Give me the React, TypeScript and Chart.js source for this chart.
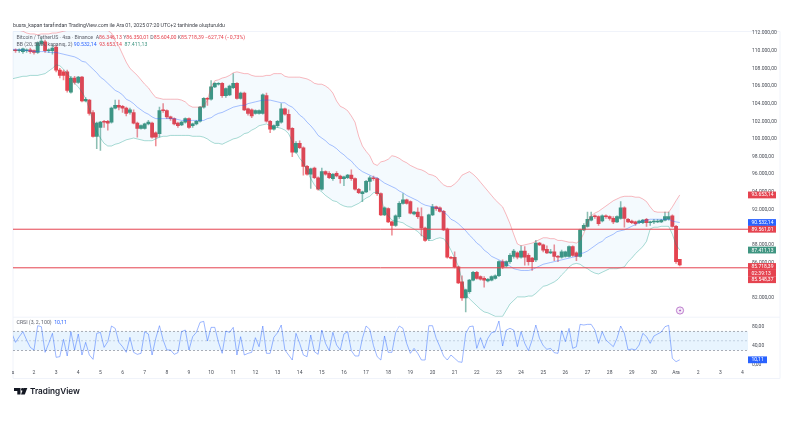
import { useEffect, useRef } from 'react'
import { Chart, registerables } from 'chart.js'

Chart.register(...registerables)

const FONT = 'Roboto, sans-serif'
const RED = '#e5434f'
const GREEN = '#3f9581'
const BLUE = '#2962ff'

// 4h candles, prices in thousands of USDT
const opens = [
  110.0,110.1,110.0,109.9,110.0,110.1,110.0,109.8,110.8,111.0,
  110.0,110.0,110.4,107.8,107.6,107.6,105.3,106.9,106.4,107.0,
  104.3,104.4,103.0,100.3,101.3,102.0,102.0,101.9,103.5,103.8,
  103.7,103.5,103.0,103.0,101.8,101.2,101.2,101.7,101.8,100.7,
  100.6,103.3,103.2,102.5,102.3,101.8,101.6,101.9,102.3,101.5,
  101.7,102.0,103.6,104.6,104.5,105.9,106.2,106.3,104.9,105.0,
  105.8,106.3,104.6,105.2,103.4,103.3,102.9,102.9,102.9,104.9,
  102.0,101.1,101.5,101.9,103.4,102.8,101.2,98.5,99.5,99.0,
  96.9,96.0,96.7,95.6,94.3,96.3,96.1,95.5,96.1,95.8,
  95.5,95.6,95.9,95.5,94.3,93.8,94.0,95.2,95.6,95.5,
  93.8,91.4,92.1,90.6,90.2,91.2,92.7,93.1,92.9,91.5,
  91.7,91.2,89.9,88.7,91.4,92.3,92.2,91.8,89.8,86.6,
  86.6,85.5,83.8,82.0,82.7,84.0,84.9,84.4,84.2,83.9,
  84.0,84.2,84.5,86.1,85.6,86.1,86.7,87.1,86.6,87.3,
  86.8,86.5,86.3,88.2,88.0,87.5,87.1,87.2,86.7,86.6,
  86.7,86.7,87.8,87.1,86.7,89.7,90.1,90.8,91.3,91.2,
  90.7,91.3,91.2,91.0,90.6,91.0,92.2,90.9,90.7,90.6,
  90.5,90.5,90.9,90.5,90.6,90.6,90.6,90.8,90.9,
  91.3,90.1,86.346,
]
const closes = [
  110.1,110.0,110.1,110.2,110.1,109.9,109.8,110.9,111.1,110.0,
  110.1,110.3,107.8,107.2,107.2,105.5,106.9,106.4,107.0,104.3,
  104.5,102.9,100.3,101.8,101.9,101.9,101.8,103.5,103.8,103.6,
  103.5,102.9,103.3,101.8,101.2,101.5,101.7,101.9,100.2,100.2,
  103.2,103.2,102.5,102.3,101.7,101.5,101.9,102.3,101.3,101.7,
  102.0,103.6,104.6,104.5,105.9,106.3,106.3,104.9,105.7,106.0,
  106.3,104.6,105.2,103.3,102.9,102.6,103.2,103.2,105.0,102.0,
  101.1,101.5,102.0,103.4,102.8,101.1,98.5,99.5,99.0,96.9,
  96.0,96.6,95.6,94.3,96.3,96.0,95.6,96.0,95.8,95.5,
  95.7,95.9,95.5,94.3,93.9,94.0,95.2,95.6,95.5,93.8,
  91.4,92.2,90.6,90.2,91.3,92.7,93.1,92.7,91.6,91.7,
  91.2,89.9,88.5,91.4,92.3,92.1,91.8,89.7,86.6,86.5,
  85.5,83.7,82.0,82.9,84.0,84.9,84.2,84.1,84.0,84.1,
  84.4,84.5,86.1,85.5,86.1,86.8,87.3,86.6,87.3,86.6,
  86.1,86.1,88.2,88.0,87.4,87.1,87.2,86.7,86.6,87.2,
  87.2,87.8,86.8,86.7,89.7,90.2,90.9,91.2,91.2,90.4,
  91.3,91.2,91.0,90.6,91.2,92.2,91.0,90.6,90.5,90.4,
  90.7,90.8,90.5,90.6,90.7,90.7,90.8,91.2,91.2,
  90.1,86.1,85.718,
]
const highs = [
  110.2,110.2,110.2,110.3,110.2,110.3,110.1,111.0,111.4,111.2,
  110.2,110.6,110.6,108.0,107.8,107.8,107.1,107.1,107.1,107.1,
  104.7,104.5,103.2,101.9,102.0,102.1,102.1,103.6,104.4,104.4,
  103.8,103.6,103.5,103.3,101.9,101.6,101.8,102.1,101.9,100.8,
  103.6,104.0,103.3,102.6,102.4,101.9,102.0,102.4,102.4,101.8,
  102.1,103.7,104.7,104.7,106.6,106.4,106.4,106.4,105.8,106.1,
  107.4,106.4,105.3,105.3,103.5,103.4,103.3,103.3,105.1,105.2,
  102.1,101.6,102.1,104.0,103.5,103.3,101.3,99.7,99.8,99.1,
  97.0,96.7,96.8,95.7,96.7,96.4,96.3,96.1,96.3,95.9,
  95.8,96.0,96.5,95.6,94.4,94.1,95.3,95.8,95.8,95.6,
  93.9,92.3,92.2,90.7,91.4,92.9,93.8,93.2,93.0,91.8,
  92.2,92.2,90.0,91.5,92.6,92.4,92.3,91.9,89.9,86.7,
  87.2,85.6,84.5,83.0,84.1,85.0,85.0,84.5,84.4,84.2,
  84.5,84.6,86.2,86.3,86.2,87.0,87.5,87.2,87.9,87.8,
  87.0,86.6,88.5,88.3,88.1,87.9,87.5,88.0,86.8,87.4,
  87.3,87.9,87.9,87.2,89.8,90.4,91.7,91.7,91.4,91.3,
  91.4,91.4,91.3,91.2,91.3,92.9,92.3,91.0,90.8,90.7,
  90.8,90.9,91.0,90.7,90.9,90.9,90.9,91.7,91.7,
  91.4,90.2,86.350,
]
const lows = [
  109.8,109.8,109.8,109.7,109.8,109.7,109.6,109.7,110.6,109.8,
  109.8,109.6,107.6,106.9,106.7,105.3,105.2,106.2,106.3,104.2,
  104.2,102.7,100.2,98.9,98.7,101.3,101.0,101.8,103.4,103.3,
  103.0,102.6,102.8,101.7,100.2,101.1,101.1,101.6,100.1,99.2,
  100.2,103.0,102.3,102.1,101.6,101.3,101.5,101.8,101.2,101.3,
  101.6,101.9,103.5,103.8,104.4,105.8,106.1,104.7,104.7,104.9,
  105.7,104.5,104.5,103.2,102.7,102.4,102.8,102.8,102.8,101.9,
  100.7,101.0,101.3,101.8,102.7,101.0,98.0,98.4,98.9,95.9,
  95.9,94.4,95.5,94.2,94.2,95.9,95.5,95.3,95.7,95.0,
  94.7,95.5,95.3,94.2,93.8,92.9,93.9,94.2,95.3,93.6,
  91.3,91.3,90.5,89.1,90.1,91.0,92.6,92.6,91.5,91.4,
  91.0,89.0,88.4,88.5,91.3,91.9,91.7,89.6,86.5,86.4,
  85.4,83.6,81.7,80.4,82.5,83.9,84.1,84.0,83.2,83.8,
  83.9,84.1,84.4,85.3,85.5,85.9,86.5,86.4,86.5,85.7,
  85.7,85.1,86.1,87.9,87.2,87.0,87.0,86.2,86.1,86.5,
  86.6,86.6,86.7,86.2,86.6,89.6,90.0,90.7,91.0,90.2,
  90.6,91.0,90.8,90.4,90.5,90.9,90.0,90.5,90.4,90.2,
  90.4,90.4,90.1,90.2,90.4,90.5,90.5,90.7,90.8,
  90.0,85.9,85.604,
]
const bbUpper = [
  112.5,112.3,112.3,112.2,112.0,111.9,111.9,111.8,111.9,111.9,
  111.9,112.0,112.0,112.1,112.2,112.3,112.5,112.5,112.5,112.5,
  112.5,112.5,112.5,112.5,112.5,112.5,112.3,112.0,111.1,110.5,
  109.6,108.7,108.0,107.6,107.2,106.7,106.2,105.8,105.2,104.7,
  104.6,104.5,104.5,104.5,104.5,104.5,104.4,104.2,103.8,103.6,
  103.6,103.6,103.7,104.4,105.9,106.6,106.7,106.9,107.0,107.2,
  107.5,107.6,107.5,107.4,107.4,107.2,107.1,107.1,107.1,107.2,
  107.2,107.4,107.4,107.4,107.1,107.0,107.0,107.0,107.0,106.9,
  106.8,106.6,106.3,106.2,106.2,106.0,105.7,105.2,104.3,103.7,
  103.5,103.2,102.6,101.9,100.3,99.2,98.6,98.1,97.2,97.0,
  97.4,97.5,97.7,98.1,98.0,97.8,97.5,97.3,97.0,96.8,
  96.6,96.5,96.3,96.0,95.9,95.7,95.2,94.8,94.6,94.6,
  94.9,95.3,95.9,96.1,96.3,96.0,95.6,95.1,94.6,94.1,
  93.6,93.1,92.7,92.3,91.4,90.4,89.2,88.1,87.9,88.0,
  88.1,88.2,88.4,88.6,88.8,88.8,88.7,88.7,88.5,88.5,
  88.4,88.3,88.3,88.2,88.5,89.3,90.6,91.3,91.6,91.8,
  92.1,92.4,92.7,93.0,93.2,93.4,93.5,93.5,93.5,93.4,
  93.4,93.2,92.9,92.3,91.8,91.7,91.7,91.7,91.7,
  92.3,93.0,93.653,
]
const bbMiddle = [
  110.2,110.1,110.1,110.1,110.0,110.0,109.9,109.9,109.9,109.9,
  109.8,109.8,109.8,109.7,109.6,109.5,109.4,109.3,109.1,108.8,
  108.7,108.3,107.9,107.5,107.0,106.7,106.3,105.9,105.5,105.3,
  105.0,104.5,104.3,104.0,103.6,103.3,103.0,102.8,102.5,102.3,
  102.3,102.3,102.3,102.3,102.3,102.2,102.1,102.1,102.1,102.1,
  102.1,102.1,102.1,102.3,102.4,102.7,102.9,103.0,103.2,103.4,
  103.6,103.7,103.8,103.8,104.0,104.1,104.2,104.3,104.4,104.4,
  104.4,104.3,104.2,104.1,104.1,103.8,103.6,103.2,102.7,102.4,
  101.9,101.5,101.0,100.4,100.1,99.8,99.4,99.2,98.9,98.5,
  98.2,97.8,97.5,97.0,96.6,96.3,96.1,95.9,95.7,95.6,
  95.3,95.0,94.8,94.6,94.4,94.1,93.9,93.6,93.4,93.2,
  93.0,92.7,92.5,92.4,92.3,92.2,92.1,91.7,91.4,90.9,
  90.7,90.4,90.0,89.6,89.1,88.7,88.2,87.9,87.4,87.1,
  86.7,86.5,86.3,86.1,85.8,85.6,85.3,85.2,85.1,85.1,
  85.1,85.2,85.4,85.6,85.8,85.9,86.0,86.1,86.2,86.3,
  86.4,86.5,86.6,86.7,87.0,87.1,87.3,87.6,87.9,88.2,
  88.4,88.8,89.0,89.2,89.5,89.6,89.7,89.9,90.1,90.3,
  90.5,90.7,90.8,90.9,90.9,90.9,90.9,90.9,90.9,
  90.7,90.6,90.532,
]
const bbLower = [
  106.8,106.9,107.0,107.1,107.1,107.2,107.2,107.2,107.3,107.4,
  107.7,108.0,108.4,108.3,107.9,107.4,106.9,106.3,105.9,105.3,
  104.6,103.4,101.9,100.8,100.1,99.5,99.2,99.2,99.4,99.5,
  99.7,99.9,100.0,100.1,100.0,99.9,99.8,99.8,99.8,100.0,
  100.2,100.3,100.3,100.4,100.4,100.4,100.4,100.4,100.4,100.3,
  100.3,100.3,100.2,100.0,99.7,99.5,99.5,99.4,99.6,99.8,
  100.0,100.1,100.3,100.6,100.7,101.0,101.2,101.5,101.6,101.7,
  101.5,101.3,101.3,101.2,101.0,100.6,99.7,98.5,97.8,97.3,
  96.4,95.5,94.8,94.3,94.0,93.6,93.3,93.0,92.9,92.6,
  92.4,92.3,92.3,92.5,92.7,93.0,93.3,93.5,93.9,94.0,
  93.5,91.8,91.3,90.8,90.7,90.6,90.5,90.2,90.0,89.8,
  89.5,89.1,88.8,88.5,88.5,88.7,88.8,88.7,88.2,87.4,
  86.5,85.6,84.0,82.4,81.9,81.5,81.1,80.7,80.4,80.3,
  80.1,79.9,79.9,79.9,80.6,81.3,81.7,82.1,82.1,82.1,
  82.2,82.2,82.5,82.9,83.3,83.4,83.6,83.8,84.1,84.6,
  85.0,85.5,85.8,85.9,85.8,85.5,85.3,85.0,84.8,84.7,
  84.9,85.1,85.3,85.3,85.3,85.4,85.5,86.1,86.5,87.0,
  87.4,87.8,88.4,89.8,90.0,90.0,90.1,90.1,90.1,
  89.2,88.0,87.411,
]
const crsi = [
  65.7,46.8,58.7,69.2,51.7,36.3,30.7,81.8,79.7,25.8,
  44.7,65.7,15.3,16.7,53.1,18.1,69.2,30.7,64.3,20.2,
  46.8,20.2,11.1,65.7,67.8,36.3,48.2,81.1,76.2,46.8,
  37.7,25.8,57.3,25.8,21.6,23.7,69.2,64.3,20.2,55.2,
  81.8,51.7,30.7,30.7,21.6,25.1,69.2,72.7,30.7,58.7,
  67.8,88.8,90.9,49.6,78.3,78.3,46.8,23.7,70.6,67.8,
  78.3,20.2,58.7,20.2,23.7,25.8,56.6,37.7,81.1,23.7,
  23.7,57.3,67.1,83.2,30.7,20.2,9.7,65.7,44.7,20.2,
  16.7,62.2,27.2,21.6,72.7,44.7,29.3,67.8,41.2,30.7,
  64.3,69.2,29.3,18.1,18.1,55.2,81.1,74.1,39.8,16.7,
  9.7,60.1,25.8,25.8,67.1,81.1,76.2,44.7,23.7,34.2,
  23.7,9.7,9.7,81.8,81.8,55.2,37.7,18.1,9.7,20.2,
  13.2,6.2,4.8,65.7,79.7,81.1,34.2,56.6,34.2,55.2,
  67.1,69.2,91.6,39.1,72.7,76.2,72.7,37.7,69.2,44.7,
  29.3,51.7,83.2,55.2,39.8,32.1,34.2,25.1,23.7,71.3,
  48.2,76.2,34.2,37.7,84.6,83.2,84.6,84.6,72.7,44.7,
  69.2,51.7,44.7,37.7,55.2,81.1,65.7,30.7,32.8,30.7,
  41.2,65.7,58.7,44.7,60.1,64.3,68.5,79.7,82.5,
  13.2,6.2,10.11,
]

const priceTicks = [82, 84, 86, 88, 90, 92, 94, 96, 98, 100, 102, 104, 106, 108, 110, 112]
const crsiTicks = [0, 40, 80]
const dayLabels = [
  's', '2', '3', '4', '5', '6', '7', '8', '9', '10', '11', '12', '13', '14', '15', '16', '17',
  '18', '19', '20', '21', '22', '23', '24', '25', '26', '27', '28', '29', '30', 'Ara', '2', '3', '4',
]
const resistance = 89.77
const support = 85.4
const crsiBands = [70, 50, 30]

const tagTexts = ['93.653,14', '90.532,14', '89.561,01', '87.411,13', '85.718,39', '02:39:13', '85.548,37']
const tagPrices = [93.653, 90.532, 89.77, 87.411, 85.55, 84.8, 84.05]
const tagColors = [RED, BLUE, RED, GREEN, RED, RED, RED]

const X_MIN = 0.31
const X_MAX = 199.5
const candlesPerDay = 6

const series = (values: number[]) => values.map((y, x) => ({ x, y }))
const flat = (y: number) => [{ x: X_MIN, y }, { x: X_MAX, y }]
const priceText = (v: number) =>
  (v * 1000).toLocaleString('de-DE', { minimumFractionDigits: 2, maximumFractionDigits: 2 })

type Run = [string, string]
const GRAY = '#5d606b'

function drawRuns(ctx: CanvasRenderingContext2D, x: number, y: number, runs: Run[], gap = 0) {
  let cx = x
  runs.forEach(([text, color]) => {
    ctx.fillStyle = color
    ctx.fillText(text, cx, y)
    cx += ctx.measureText(text).width + gap
  })
}

const decorations = {
  id: 'decorations',
  beforeDraw(chart: Chart) {
    const { ctx } = chart
    const y = chart.scales.y
    ctx.save()
    ctx.strokeStyle = '#f0f3fa'
    ctx.lineWidth = 1
    ctx.beginPath()
    ctx.moveTo(13, 378.5); ctx.lineTo(13, 31.5); ctx.lineTo(780, 31.5); ctx.lineTo(780, 378.5); ctx.lineTo(13, 378.5)
    ctx.moveTo(13, y.bottom + 0.5); ctx.lineTo(780, y.bottom + 0.5)
    ctx.stroke()
    ctx.restore()
  },
  afterDraw(chart: Chart) {
    const { ctx } = chart
    const y = chart.scales.y
    const yc = chart.scales.yCrsi
    ctx.save()
    ctx.textBaseline = 'middle'
    ctx.font = `5.2px ${FONT}`
    ctx.fillStyle = '#3c3f47'
    ctx.fillText('busra_kapan tarafından TradingView.com ile Ara 01, 2025 07:20 UTC+2 tarihinde oluşturuldu', 13, 26)

    drawRuns(ctx, 16.5, 37.5, [
      ['Bitcoin / TetherUS · 4sa · Binance  ', GRAY],
      ['A', GRAY], ['86.346,13 ', RED],
      ['Y', GRAY], ['86.350,01 ', RED],
      ['D', GRAY], ['85.604,00 ', RED],
      ['K', GRAY], ['85.718,39 ', RED],
      ['−627,74 (−0,73%)', RED],
    ])
    drawRuns(ctx, 16.5, 44.3, [
      ['BB (20, SMA, kapanış, 2) ', GRAY],
      ['90.532,14  ', BLUE],
      ['93.653,14  ', RED],
      ['87.411,13', GREEN],
    ])
    drawRuns(ctx, 16.5, 322.7, [['CRSI (3, 2, 100)  ', GRAY], ['10,11', BLUE]])

    // price tags on the right axis
    ctx.font = `5px ${FONT}`
    tagTexts.forEach((text, i) => {
      const py = y.getPixelForValue(tagPrices[i])
      ctx.fillStyle = tagColors[i]
      ctx.fillRect(748, py - 3.4, 28, 6.8)
      ctx.fillStyle = '#fff'
      ctx.fillText(text, 751.5, py + 0.2)
    })
    const cy = yc.getPixelForValue(crsi[crsi.length - 1])
    ctx.fillStyle = BLUE
    ctx.fillRect(748, cy - 3.4, 19, 6.8)
    ctx.fillStyle = '#fff'
    ctx.fillText('10,11', 751.5, cy + 0.2)

    // lightning badge
    ctx.beginPath()
    ctx.arc(680, 310.5, 3.6, 0, Math.PI * 2)
    ctx.fillStyle = '#f6ecf8'
    ctx.fill()
    ctx.strokeStyle = '#b56fc8'
    ctx.lineWidth = 0.9
    ctx.stroke()
    ctx.beginPath()
    ctx.moveTo(680.8, 308.3); ctx.lineTo(678.8, 310.9); ctx.lineTo(680, 310.9); ctx.lineTo(679.3, 312.8); ctx.lineTo(681.3, 310.1); ctx.lineTo(680.1, 310.1)
    ctx.closePath()
    ctx.fillStyle = '#a855c4'
    ctx.fill()

    // TradingView mark
    ctx.fillStyle = '#131722'
    ctx.beginPath()
    ctx.moveTo(14, 388); ctx.lineTo(20.5, 388); ctx.lineTo(20.5, 394.5); ctx.lineTo(17.3, 394.5); ctx.lineTo(17.3, 391); ctx.lineTo(14, 391)
    ctx.closePath()
    ctx.fill()
    ctx.beginPath()
    ctx.arc(22.4, 389.4, 1.4, 0, Math.PI * 2)
    ctx.fill()
    ctx.beginPath()
    ctx.moveTo(27.3, 388); ctx.lineTo(24.8, 394.5); ctx.lineTo(21, 394.5); ctx.lineTo(23.5, 388)
    ctx.closePath()
    ctx.fill()
    ctx.font = `600 8.2px Inter, ${FONT}`
    ctx.fillText('TradingView', 30, 391.5)
    ctx.restore()
  },
}

export default function App() {
  const canvasRef = useRef<HTMLCanvasElement>(null)

  useEffect(() => {
    if (!canvasRef.current) return

    const wickColors = opens.map((o, i) => (closes[i] >= o ? GREEN + '99' : RED + '99'))
    const bodyColors = opens.map((o, i) => (closes[i] >= o ? GREEN : RED))
    const thin = { type: 'line' as const, pointRadius: 0, tension: 0, yAxisID: 'y' }

    const chart = new Chart(canvasRef.current, {
      type: 'bar',
      data: {
        datasets: [
          { ...thin, data: flat(resistance), borderColor: RED, borderWidth: 1 },
          { ...thin, data: flat(support), borderColor: RED, borderWidth: 1 },
          { ...thin, data: series(bbUpper), borderColor: '#f2364570', borderWidth: 0.8, fill: { target: 4, above: '#2196f30d', below: '#2196f30d' } },
          { ...thin, data: series(bbMiddle), borderColor: '#2962ff80', borderWidth: 0.8 },
          { ...thin, data: series(bbLower), borderColor: '#08998170', borderWidth: 0.8 },
          { type: 'bar', yAxisID: 'y', grouped: false, barThickness: 3.2, data: opens.map((o, x) => ({ x, y: [o, closes[x]] })), backgroundColor: bodyColors },
          { type: 'bar', yAxisID: 'y', grouped: false, barThickness: 0.9, data: lows.map((l, x) => ({ x, y: [l, highs[x]] })), backgroundColor: wickColors },
          { type: 'line', yAxisID: 'yCrsi', pointRadius: 0, tension: 0, data: series(crsi), borderColor: '#2962ff80', borderWidth: 0.9 },
          { type: 'line', yAxisID: 'yCrsi', pointRadius: 0, data: flat(crsiBands[0]), borderColor: '#8a8d96', borderWidth: 0.7, borderDash: [2, 2], fill: { target: 10, above: '#2196f31a', below: '#2196f31a' } },
          { type: 'line', yAxisID: 'yCrsi', pointRadius: 0, data: flat(crsiBands[1]), borderColor: '#c3c6ce', borderWidth: 0.7, borderDash: [2, 2] },
          { type: 'line', yAxisID: 'yCrsi', pointRadius: 0, data: flat(crsiBands[2]), borderColor: '#8a8d96', borderWidth: 0.7, borderDash: [2, 2] },
        ],
      } as any,
      options: {
        responsive: false,
        animation: false,
        events: [],
        layout: { padding: { left: 13, top: 31, right: 0, bottom: 46 } },
        plugins: { legend: { display: false }, tooltip: { enabled: false } },
        scales: {
          x: {
            type: 'linear',
            min: X_MIN,
            max: X_MAX,
            offset: false,
            grid: { display: false, drawTicks: false },
            border: { display: false },
            afterBuildTicks: (s: any) => {
              s.ticks = dayLabels.map((_, i) => ({ value: i === 0 ? X_MIN : i * candlesPerDay }))
            },
            afterFit: (s: any) => { s.height = 11 },
            ticks: {
              autoSkip: false,
              maxRotation: 0,
              padding: 3,
              color: '#4a4e57',
              font: { size: 5, family: FONT },
              callback: (v: any) => (v === X_MIN ? dayLabels[0] : dayLabels[Math.round(v / candlesPerDay)]),
            },
          },
          y: {
            type: 'linear',
            position: 'right',
            stack: 'panes',
            stackWeight: 285.7,
            min: 79.86,
            max: 112.23,
            grid: { display: false, drawTicks: false },
            border: { display: false },
            afterBuildTicks: (s: any) => { s.ticks = priceTicks.map(value => ({ value })) },
            afterFit: (s: any) => { s.width = 44 },
            ticks: {
              autoSkip: false,
              padding: 4,
              color: '#4a4e57',
              font: { size: 5, family: FONT },
              callback: (v: any) => priceText(v),
            },
          },
          yCrsi: {
            type: 'linear',
            position: 'right',
            stack: 'panes',
            stackWeight: 50.3,
            min: -5,
            max: 100.7,
            grid: { display: false, drawTicks: false },
            border: { display: false },
            afterBuildTicks: (s: any) => { s.ticks = crsiTicks.map(value => ({ value })) },
            afterFit: (s: any) => { s.width = 44 },
            ticks: {
              autoSkip: false,
              padding: 4,
              color: '#4a4e57',
              font: { size: 5, family: FONT },
              callback: (v: any) => `${v},00`,
            },
          },
        },
      },
      plugins: [decorations],
    } as any)

    return () => chart.destroy()
  }, [])

  return (
    <div style={{ position: 'fixed', left: 0, top: 0, width: 792, height: 424, background: '#fff' }}>
      <canvas ref={canvasRef} width={792} height={424} />
    </div>
  )
}
